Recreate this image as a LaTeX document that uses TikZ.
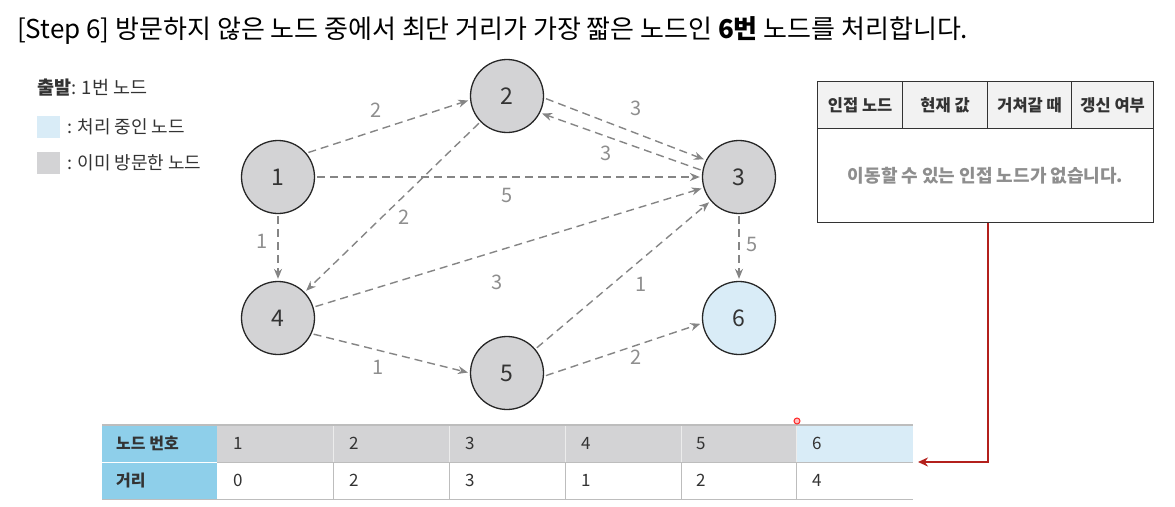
\documentclass[tikz,border=0pt]{standalone}
\usepackage{fontspec}
\setmainfont{Noto Sans CJK KR}
\usetikzlibrary{arrows.meta}
\definecolor{nodegray}{HTML}{D3D3D5}
\definecolor{nodeblue}{HTML}{D9ECF7}
\definecolor{edgegray}{HTML}{858585}
\definecolor{labelgray}{HTML}{8E8E8E}
\definecolor{headblue}{HTML}{8ECFEA}
\definecolor{redline}{HTML}{B3201C}
\definecolor{headgray}{HTML}{F2F2F2}
\definecolor{gridgray}{HTML}{BDBDBD}
\definecolor{darktext}{HTML}{333333}
\begin{document}
\begin{tikzpicture}[x=1pt,y=-1pt,
  vertex/.style={circle,draw=black!85,line width=1.3pt,minimum size=73pt,inner sep=0pt,fill=nodegray,font=\fontsize{23}{26}\selectfont,text=darktext},
  edge/.style={draw=edgegray,line width=1.4pt,dash pattern=on 8pt off 5pt,-{Stealth[length=10pt,width=8pt]},shorten >=2pt,shorten <=2pt},
  wlabel/.style={text=labelgray,font=\fontsize{20}{23}\selectfont,inner sep=0pt},
  legbox/.style={minimum width=23pt,minimum height=22pt,inner sep=0pt,anchor=north west},
  legtext/.style={anchor=west,inner sep=0pt,font=\fontsize{18}{21}\selectfont,text=darktext},
  thead/.style={draw=black!80,line width=1.2pt,fill=headgray,minimum height=47pt,inner sep=0pt,anchor=north west,font=\fontsize{16.5}{19}\selectfont\bfseries,text=darktext},
  tcell/.style={minimum height=37pt,inner sep=0pt,anchor=north west},
  ttext/.style={anchor=west,inner sep=0pt,font=\fontsize{17}{20}\selectfont,text=darktext}
]
\useasboundingbox (0,0) rectangle (1175,506);

% title
\node[anchor=west,inner sep=0pt,font=\fontsize{26}{30}\selectfont,text=black] (title) at (17,31)
  {[Step 6] 방문하지 않은 노드 중에서 최단 거리가 가장 짧은 노드인 \textbf{6번} 노드를 처리합니다.};

% legend
\node[legtext,font=\fontsize{18.5}{21}\selectfont] (start) at (37,88) {\textbf{출발}: 1번 노드};
\node[legbox,fill=nodeblue] (lb1) at (37,116) {};
\node[legtext] (lt1) at (67,127) {: 처리 중인 노드};
\node[legbox,fill=nodegray] (lb2) at (37,152) {};
\node[legtext] (lt2) at (67,163) {: 이미 방문한 노드};

% graph nodes
\node[vertex] (n1) at (278,177) {1};
\node[vertex] (n2) at (507,96) {2};
\node[vertex] (n3) at (739,177) {3};
\node[vertex] (n4) at (278,318) {4};
\node[vertex] (n5) at (507,373) {5};
\node[vertex,fill=nodeblue] (n6) at (739,318) {6};

% edges
\draw[edge] (n1.40) -- (n2.186);
\draw[edge] (n1) -- (n3);
\draw[edge] (n1) -- (n4);
\draw[edge] (n2.-3) -- (n3.153);
\draw[edge] (n3.170) -- (n2.-27);
\draw[edge] (n2) -- (n4);
\draw[edge] (n3) -- (n6);
\draw[edge] (n4) -- (n3);
\draw[edge] (n4.-25) -- (n5.180);
\draw[edge] (n5) -- (n3);
\draw[edge] (n5.-5) -- (n6.188);

% edge labels
\node[wlabel] (l12) at (376,110) {2};
\node[wlabel] (l13) at (507,195) {5};
\node[wlabel] (l14) at (262,241) {1};
\node[wlabel] (l23) at (636,108) {3};
\node[wlabel] (l32) at (606,153) {3};
\node[wlabel] (l24) at (404,217) {2};
\node[wlabel] (l36) at (752,244) {5};
\node[wlabel] (l43) at (497,282) {3};
\node[wlabel] (l45) at (378,367) {1};
\node[wlabel] (l53) at (641,284) {1};
\node[wlabel] (l56) at (636,357) {2};

% right table
\node[thead,minimum width=85pt] (h1) at (817,81) {인접 노드};
\node[thead,minimum width=85pt] (h2) at (902,81) {현재 값};
\node[thead,minimum width=84pt] (h3) at (987,81) {거쳐갈 때};
\node[thead,minimum width=82pt] (h4) at (1071,81) {갱신 여부};
\node[draw=black!80,line width=1.2pt,fill=white,minimum width=336pt,minimum height=94pt,inner sep=0pt,anchor=north west,
  font=\fontsize{18}{21}\selectfont\bfseries,text=labelgray] (body) at (817,128) {이동할 수 있는 인접 노드가 없습니다.};

% bottom table
\node[tcell,fill=headblue,minimum width=115pt] (r1h) at (102,425) {};
\node[tcell,fill=headblue,minimum width=115pt] (r2h) at (102,462) {};
\node[ttext,font=\fontsize{16}{19}\selectfont\bfseries] at (116,443.5) {노드 번호};
\node[ttext,font=\fontsize{16}{19}\selectfont\bfseries] at (116,480.5) {거리};
\foreach \i/\x/\d in {1/217/0,2/333/2,3/449/3,4/565/1,5/680/2} {
  \node[tcell,fill=nodegray,minimum width=116pt] (a\i) at (\x,425) {};
  \node[ttext] at (\x+16,443.5) {\i};
  \node[tcell,fill=white,minimum width=116pt] (b\i) at (\x,462) {};
  \node[ttext] at (\x+16,480.5) {\d};
}
\node[tcell,fill=nodeblue,minimum width=117pt] (a6) at (796,425) {};
\node[ttext] at (812,443.5) {6};
\node[tcell,fill=white,minimum width=117pt] (b6) at (796,462) {};
\node[ttext] at (812,480.5) {4};
% grid lines
\draw[white,line width=1pt] (r1h.south west) -- (r1h.south east);
\draw[gridgray,line width=0.8pt] (r1h.south east) -- (a6.south east);
\foreach \i in {1,2,3,4,5} {
  \draw[white!85!gray,line width=1pt] (a\i.north east) -- (a\i.south east);
  \draw[gridgray,line width=0.8pt] (b\i.north east) -- (b\i.south east);
}
\draw[gridgray,line width=1.5pt] (r1h.north west) -- (a6.north east);
\draw[gridgray,line width=1.5pt] (r2h.south west) -- (b6.south east);

% red connector
\coordinate (rc) at (988,462);
\coordinate (tgt) at (918,462);
\draw[redline,line width=2pt,-{Stealth[length=10pt,width=9pt]}] (body.south -| rc) -- (rc) -- (tgt);

% cursor dot
\node[circle,draw=red!85,fill=red!25,line width=1pt,minimum size=6pt,inner sep=0pt] (dot) at (797,421) {};
\end{tikzpicture}
\end{document}
